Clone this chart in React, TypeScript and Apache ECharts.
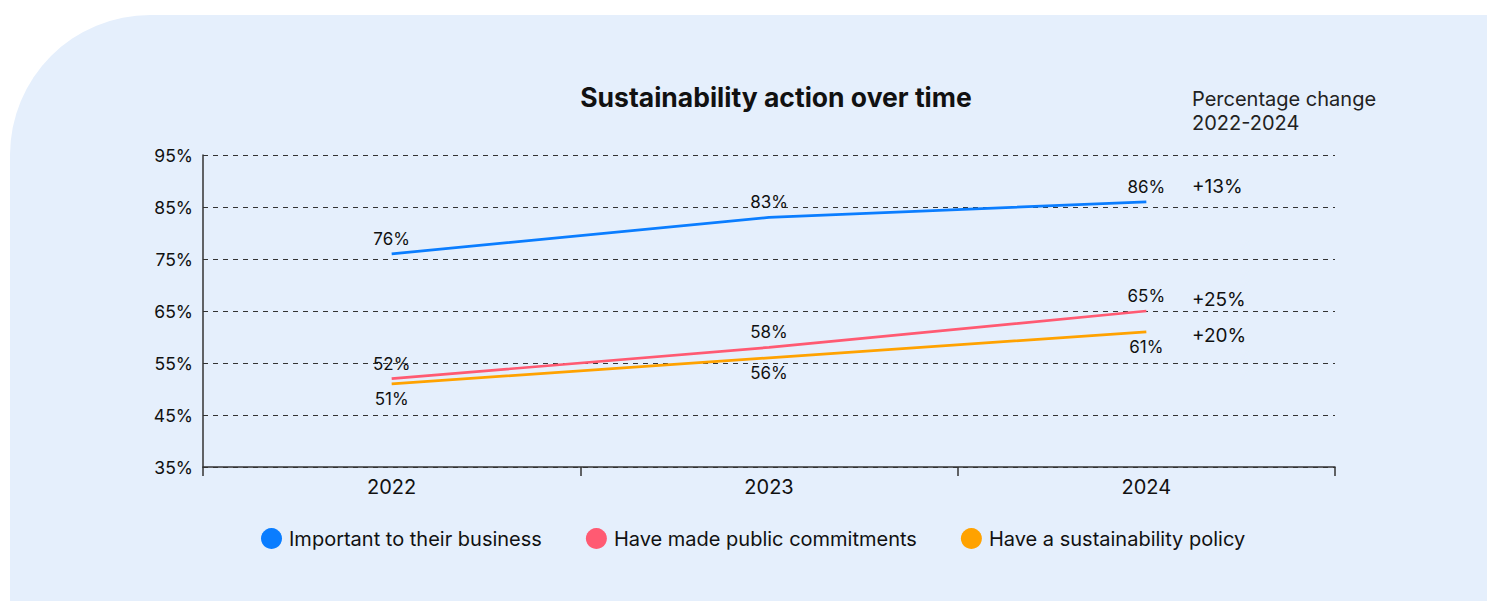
import React, { useEffect, useRef } from "react";
import * as echarts from "echarts";

const years = ["2022", "2023", "2024"];
const important = [76, 83, 86];
const publicCommit = [52, 58, 65];
const policy = [51, 56, 61];
const seriesNames = ["Important to their business", "Have made public commitments", "Have a sustainability policy"];
const colors = ["#0A7DFF", "#FF5A72", "#FFA200"];
const yTicks = [35, 45, 55, 65, 75, 85, 95];

const FONT = "Inter, 'Noto Sans', sans-serif";

export default function App() {
  const ref = useRef<HTMLDivElement>(null);
  useEffect(() => {
    if (!ref.current) return;
    const chart = echarts.init(ref.current, undefined, { renderer: "svg" });
    const allSeries = [important, publicCommit, policy];
    const labelPos = ["top", "top", "bottom"];
    const changes = allSeries.map((s) => {
      const c = Math.round(((s[s.length - 1] - s[0]) / s[0]) * 100);
      return (c >= 0 ? "+" : "") + c + "%";
    });
    const changeY = [186, 299, 335];

    chart.setOption({
      animation: false,
      textStyle: { fontFamily: FONT },
      title: {
        text: "Sustainability action over time",
        left: 771,
        top: 78,
        textAlign: "center",
        textStyle: { fontSize: 26.5, fontWeight: "bold", color: "#111", fontFamily: FONT },
      },
      graphic: [
        {
          type: "rect",
          z: -10,
          silent: true,
          shape: { x: 10, y: 15, width: 1500, height: 600, r: [140, 0, 0, 0] },
          style: { fill: "#E5EFFC" },
        },
        {
          type: "text",
          x: 1192,
          y: 87,
          style: {
            text: "Percentage change\n2022-2024",
            fontSize: 20,
            lineHeight: 24,
            fill: "#222",
            fontFamily: FONT,
          },
        },
        ...changes.map((t, i) => ({
          type: "text",
          x: 1192,
          y: changeY[i],
          style: {
            text: t,
            fontSize: 19,
            fill: "#111",
            fontFamily: FONT,
            verticalAlign: "middle",
          },
        })),
      ],
      legend: {
        left: 256,
        top: 523,
        icon: "circle",
        itemWidth: 21,
        itemHeight: 21,
        itemGap: 44,
        textStyle: { fontSize: 20, lineHeight: 21, color: "#111", fontFamily: FONT, padding: [0, 0, 0, 2] },
        data: seriesNames.map((n, i) => ({ name: n, itemStyle: { color: colors[i], opacity: 1 } })),
      },
      grid: { left: 203, right: 152, top: 155, bottom: 134, containLabel: false },
      xAxis: {
        type: "category",
        data: years,
        boundaryGap: true,
        axisLine: { lineStyle: { color: "#333", width: 1.5 } },
        axisTick: { show: true, length: 9, lineStyle: { color: "#333", width: 1.5 } },
        axisLabel: { fontSize: 20, color: "#111", margin: 10, fontFamily: FONT },
      },
      yAxis: {
        type: "value",
        min: 35,
        max: 95,
        interval: 10,
        axisLine: { show: true, lineStyle: { color: "#333", width: 1.5 } },
        axisTick: { show: false },
        axisLabel: {
          fontSize: 17.5,
          color: "#111",
          margin: 10,
          fontFamily: FONT,
          formatter: (v: number) => (yTicks.includes(v) ? v + "%" : ""),
        },
        splitLine: { show: true, lineStyle: { color: "#333", type: [5, 5], width: 1 } },
      },
      series: allSeries.map((d, i) => ({
        name: seriesNames[i],
        type: "line",
        data: d,
        color: colors[i],
        symbol: "circle",
        symbolSize: 1,
        showSymbol: true,
        itemStyle: { color: colors[i], opacity: 0 },
        lineStyle: { width: 2.7, color: colors[i] },
        label: {
          show: true,
          position: labelPos[i],
          distance: 6,
          fontSize: 17,
          color: "#111",
          opacity: 1,
          fontFamily: FONT,
          formatter: "{c}%",
        },
      })),
    });
    return () => chart.dispose();
  }, []);
  return (
    <div
      ref={ref}
      style={{ position: "absolute", left: 0, top: 0, width: 1487, height: 601, background: "#fff" }}
    />
  );
}
